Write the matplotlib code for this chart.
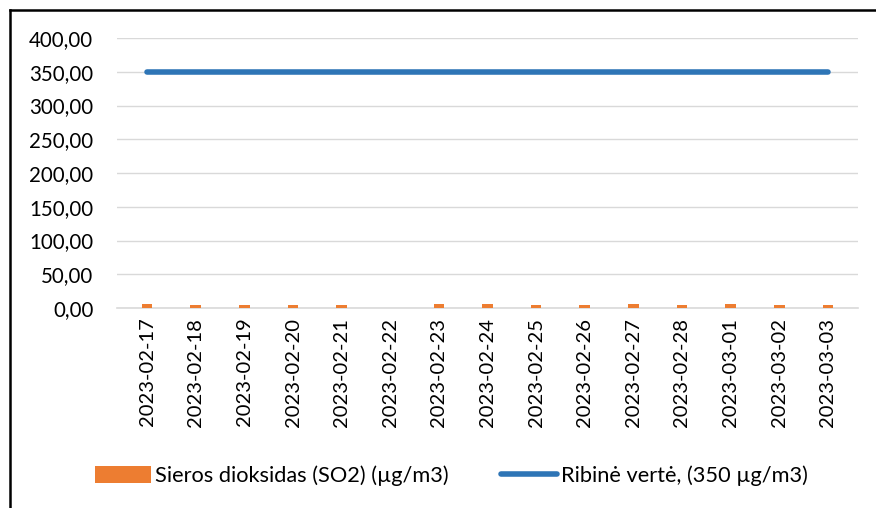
import matplotlib.pyplot as plt
import numpy as np
from matplotlib.lines import Line2D

dates = ['2023-02-17', '2023-02-18', '2023-02-19', '2023-02-20', '2023-02-21',
         '2023-02-22', '2023-02-23', '2023-02-24', '2023-02-25', '2023-02-26',
         '2023-02-27', '2023-02-28', '2023-03-01', '2023-03-02', '2023-03-03']
so2 = [5.5, 5.0, 4.5, 4.5, 4.5, np.nan, 5.5, 5.5, 5.0, 4.5, 5.5, 5.0, 6.0, 5.0, 4.0]
limit = [350] * len(dates)
yticks = [0, 50, 100, 150, 200, 250, 300, 350, 400]

plt.rcParams['font.family'] = ['Lato', 'DejaVu Sans']

fig = plt.figure(figsize=(8.76, 5.08), dpi=100)
ax = fig.add_axes([117/876, 1 - 308/508, (858-117)/876, (308-38)/508])

x = np.arange(len(dates))
bars = ax.bar(x, so2, width=0.22, color='#ED7D31', zorder=3)
line, = ax.plot(x, limit, color='#2E75B6', lw=4, solid_capstyle='round', zorder=4)

ax.set_xlim(-0.62, len(dates) - 0.38)
ax.set_ylim(0, 400)
ax.set_yticks(yticks)
ax.set_yticklabels([f'{v:.2f}'.replace('.', ',') for v in yticks], fontsize=14.8)
ax.set_xticks(x)
ax.set_xticklabels(dates, rotation=90, fontsize=14.5)
ax.tick_params(axis='x', length=0, pad=7)
ax.tick_params(axis='y', length=0, pad=17)
ax.grid(axis='y', color='#D9D9D9', lw=1, zorder=0)
for s in ['top', 'right', 'left']:
    ax.spines[s].set_visible(False)
ax.spines['bottom'].set_color('#D9D9D9')
ax.spines['bottom'].set_linewidth(1.2)

fig.legend([bars, line], ['Sieros dioksidas (SO2) (µg/m3)', 'Ribinė vertė, (350 µg/m3)'],
           loc='center', bbox_to_anchor=(451/876, 1 - 476/508), ncol=2, frameon=False,
           fontsize=15.7, handlelength=2.6, handleheight=0.85, handletextpad=0.15, columnspacing=2.4)

# outer frame: only top and left edges visible
fig.lines.append(Line2D([10/876, 10/876], [0, 1 - 10/508], transform=fig.transFigure,
                        color='black', lw=1.8))
fig.lines.append(Line2D([10/876, 1], [1 - 10/508, 1 - 10/508], transform=fig.transFigure,
                        color='black', lw=1.8))

fig.savefig('out.png', dpi=100)
